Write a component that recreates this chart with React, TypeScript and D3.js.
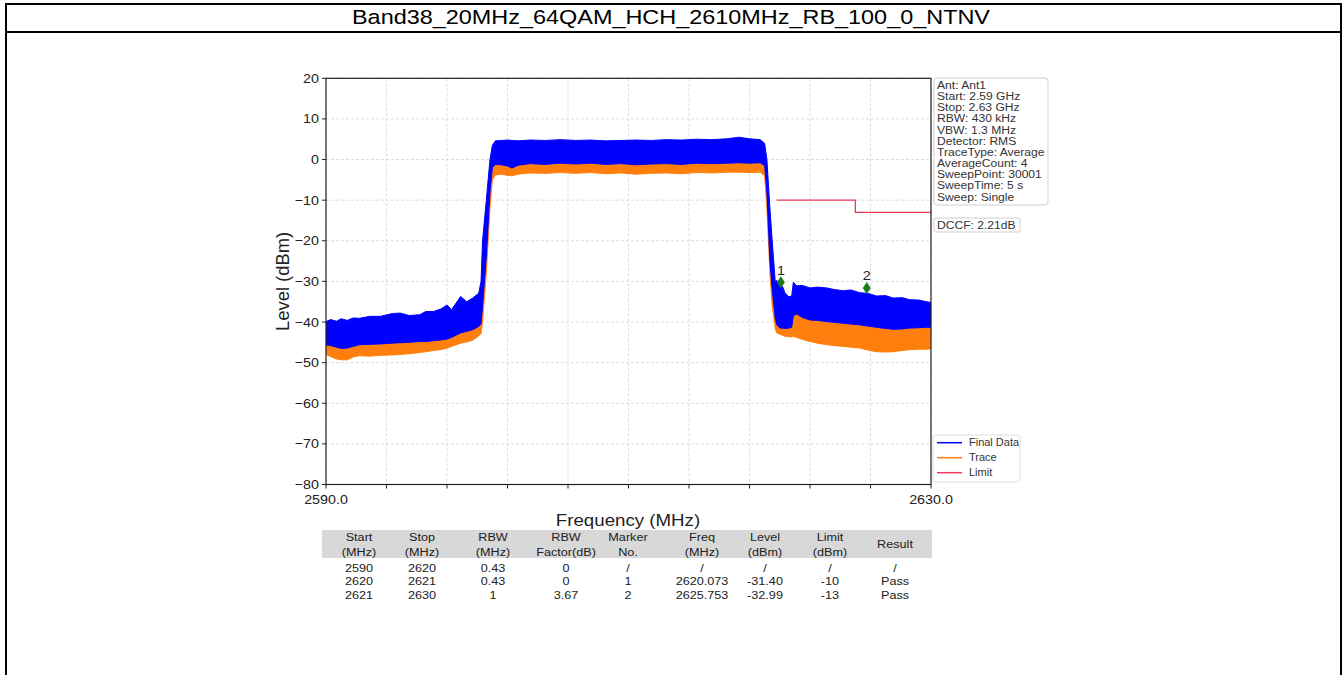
import React from "react";
import * as d3 from "d3";

// ---------------- data ----------------
const title = "Band38_20MHz_64QAM_HCH_2610MHz_RB_100_0_NTNV";

// envelope of the traces (MHz / dBm)
const freq = [
  2590.0, 2590.3, 2590.7, 2591.0, 2591.4, 2591.8, 2592.2, 2592.9, 2593.6, 2594.4,
  2594.9, 2595.5, 2596.2, 2596.6, 2597.1, 2597.6, 2598.0, 2598.3, 2598.9, 2599.3,
  2599.7, 2600.1, 2600.25, 2600.35, 2600.6, 2600.84, 2601.0, 2601.2, 2601.6, 2602.0,
  2602.3, 2602.7, 2603.5, 2604.5, 2605.5, 2606.5, 2607.5, 2608.5, 2609.5, 2610.5,
  2611.5, 2612.5, 2613.5, 2614.5, 2615.5, 2616.5, 2617.3, 2618.0, 2618.7, 2619.0,
  2619.15, 2619.35, 2619.5, 2619.7, 2619.8, 2620.02, 2620.2, 2620.35, 2620.6, 2620.79,
  2620.9, 2621.12, 2621.5, 2622.0, 2622.5, 2623.1, 2623.6, 2624.2, 2624.7, 2625.3,
  2625.8, 2626.4, 2627.0, 2627.5, 2628.1, 2628.6, 2629.2, 2629.72, 2630.0,
];
const finalMax = [
  -39.9, -39.4, -39.8, -39.2, -39.6, -39.0, -39.1, -38.6, -38.6, -37.9,
  -37.8, -38.4, -38.2, -37.4, -37.4, -36.8, -35.8, -37.0, -33.7, -35.0,
  -34.1, -32.9, -30.0, -20.0, -10.0, 0.0, 3.5, 4.6, 4.7, 4.8,
  4.7, 4.6, 4.8, 4.7, 4.9, 4.7, 4.8, 4.6, 4.7, 4.8,
  4.7, 4.9, 4.8, 5.0, 4.9, 5.1, 5.5, 5.1, 4.9, 4.0,
  0.0, -12.0, -20.0, -30.0, -29.8, -30.5, -31.4, -32.9, -33.8, -33.6,
  -30.2, -31.1, -31.0, -31.6, -31.4, -31.6, -32.0, -32.3, -32.1, -32.8,
  -32.9, -33.6, -33.5, -34.1, -34.0, -34.5, -34.6, -35.0, -35.2,
];
const finalMin = [
  -45.6, -45.8, -46.2, -46.5, -46.4, -46.0, -45.6, -45.5, -45.4, -45.2,
  -45.1, -45.0, -44.8, -44.8, -44.6, -44.4, -44.2, -43.8, -42.7, -42.3,
  -41.9, -41.1, -40.5, -36.0, -24.0, -8.0, -2.0, -1.2, -1.3, -1.6,
  -2.1, -1.4, -1.0, -1.2, -0.9, -1.1, -0.9, -1.2, -1.0, -1.3,
  -1.1, -1.0, -1.2, -0.9, -1.0, -0.9, -0.8, -0.9, -0.8, -1.5,
  -8.0, -25.0, -32.0, -39.0, -40.7, -41.5, -41.5, -41.6, -41.5, -41.3,
  -38.5, -38.0, -38.9, -39.5, -39.6, -39.9, -40.1, -40.3, -40.5, -40.7,
  -41.0, -41.3, -41.6, -41.8, -41.7, -41.5, -41.4, -41.3, -41.3,
];
const traceMax = [
  -43.0, -43.2, -43.6, -43.8, -43.7, -43.4, -43.0, -42.9, -42.8, -42.6,
  -42.5, -42.4, -42.2, -42.2, -42.0, -41.8, -41.6, -41.2, -40.2, -39.8,
  -39.4, -38.6, -38.0, -33.0, -20.0, -6.0, 0.5, 1.5, 1.4, 1.2,
  0.8, 1.3, 1.6, 1.5, 1.7, 1.5, 1.7, 1.5, 1.6, 1.4,
  1.5, 1.6, 1.5, 1.7, 1.6, 1.7, 1.8, 1.7, 1.8, 1.0,
  -4.0, -20.0, -30.0, -37.0, -38.0, -39.0, -39.0, -39.1, -39.0, -38.8,
  -36.0, -35.5, -36.4, -37.0, -37.1, -37.4, -37.6, -37.8, -38.0, -38.2,
  -38.5, -38.8, -39.1, -39.3, -39.2, -39.0, -38.9, -38.8, -38.8,
];
const traceMin = [
  -48.0, -48.5, -49.1, -49.3, -49.3, -48.6, -48.3, -48.4, -48.2, -48.1,
  -48.0, -47.8, -47.5, -47.3, -47.0, -46.8, -46.4, -46.0, -45.2, -44.9,
  -44.5, -43.4, -42.8, -40.0, -28.0, -12.0, -5.0, -3.8, -3.6, -3.9,
  -4.0, -3.6, -3.3, -3.4, -3.2, -3.4, -3.2, -3.5, -3.3, -3.6,
  -3.4, -3.3, -3.5, -3.2, -3.3, -3.1, -3.1, -3.2, -3.1, -4.0,
  -12.0, -28.0, -36.0, -41.5, -42.7, -43.0, -43.3, -43.5, -43.6, -43.7,
  -43.5, -43.8, -44.3, -44.8, -45.2, -45.6, -45.8, -46.0, -46.2, -46.4,
  -46.9, -47.3, -47.4, -47.3, -47.0, -46.8, -46.7, -46.7, -46.6,
];

const limitFreq = [2619.8, 2625.0, 2625.0, 2630.0];
const limitLevel = [-10, -10, -13, -13];

const markerNames = ["1", "2"];
const markerFreq = [2620.073, 2625.753];
const markerLevel = [-30.2, -31.6];

const yTicks = [20, 10, 0, -10, -20, -30, -40, -50, -60, -70, -80];
const xTicks = [2590, 2594, 2598, 2602, 2606, 2610, 2614, 2618, 2622, 2626, 2630];
const xTickLabels = ["2590.0", "2630.0"];

const infoLines = [
  "Ant: Ant1",
  "Start: 2.59 GHz",
  "Stop: 2.63 GHz",
  "RBW: 430 kHz",
  "VBW: 1.3 MHz",
  "Detector: RMS",
  "TraceType: Average",
  "AverageCount: 4",
  "SweepPoint: 30001",
  "SweepTime: 5 s",
  "Sweep: Single",
];
const dccfText = "DCCF: 2.21dB";

const legendNames = ["Final Data", "Trace", "Limit"];

const tableHeader1 = ["Start", "Stop", "RBW", "RBW", "Marker", "Freq", "Level", "Limit", "Result"];
const tableHeader2 = ["(MHz)", "(MHz)", "(MHz)", "Factor(dB)", "No.", "(MHz)", "(dBm)", "(dBm)", ""];
const tableRows = [
  ["2590", "2620", "0.43", "0", "/", "/", "/", "/", "/"],
  ["2620", "2621", "0.43", "0", "1", "2620.073", "-31.40", "-10", "Pass"],
  ["2621", "2630", "1", "3.67", "2", "2625.753", "-32.99", "-13", "Pass"],
];

// ---------------- styles ----------------
const FONT = "Arial, 'Liberation Sans', sans-serif";
const BLUE = "#0000ff";
const ORANGE = "#ff7f0e";
const RED = "#ef3b5a";
const GREEN = "#1f7a1f";
const SX = 1.1; // horizontal stretch of the chart's text

function SText(props: { x: number; y: number; anchor?: string; size: number; fill?: string; children: React.ReactNode; dy?: string }) {
  return (
    <text
      transform={`translate(${props.x},${props.y}) scale(${SX},1)`}
      textAnchor={props.anchor || "start"}
      dy={props.dy || "0.35em"}
      fontSize={props.size}
      fill={props.fill || "#222"}
    >
      {props.children}
    </text>
  );
}

export default function App() {
  const W = 1344;
  const H = 675;
  const left = 326, right = 931, top = 78.3, bottom = 484.5;
  const x = d3.scaleLinear().domain([2590, 2630]).range([left, right]);
  const y = d3.scaleLinear().domain([-80, 20]).range([bottom, top]);

  const idx = d3.range(freq.length);
  const traceArea = d3.area<number>()
    .x((i) => x(freq[i]))
    .y0((i) => y(traceMin[i]))
    .y1((i) => y(traceMax[i]))(idx) || "";
  const finalArea = d3.area<number>()
    .x((i) => x(freq[i]))
    .y0((i) => y(finalMin[i]))
    .y1((i) => y(finalMax[i]))(idx) || "";
  const limitPath = d3.line<number>()
    .x((i) => x(limitFreq[i]))
    .y((i) => y(limitLevel[i]))(d3.range(limitFreq.length)) || "";

  const colCenters = [359, 422, 493, 566, 628, 702, 765, 830, 895];

  return (
    <svg width={W} height={H} style={{ position: "absolute", left: 0, top: 0, background: "#fff" }} fontFamily={FONT}>
      {/* page frame */}
      <line x1={6} y1={4} x2={1342} y2={4} stroke="#000" strokeWidth={2} />
      <line x1={6} y1={32} x2={1342} y2={32} stroke="#000" strokeWidth={2} />
      <line x1={6} y1={3} x2={6} y2={H} stroke="#000" strokeWidth={2} />
      <line x1={1341} y1={3} x2={1341} y2={H} stroke="#000" strokeWidth={2} />
      <text x={352} y={24} fontSize={20.5} fill="#000" textLength={638} lengthAdjust="spacingAndGlyphs">{title}</text>

      <defs>
        <clipPath id="plotclip">
          <rect x={left} y={top} width={right - left} height={bottom - top} />
        </clipPath>
      </defs>

      {/* grid */}
      {yTicks.map((t) => (
        <line key={"gy" + t} x1={left} x2={right} y1={y(t)} y2={y(t)} stroke="#d4d4d4" strokeWidth={0.8} strokeDasharray="3,2" />
      ))}
      {xTicks.map((t) => (
        <line key={"gx" + t} x1={x(t)} x2={x(t)} y1={top} y2={bottom} stroke="#d4d4d4" strokeWidth={0.8} strokeDasharray="3,2" />
      ))}

      {/* traces */}
      <g clipPath="url(#plotclip)">
        <path d={traceArea} fill={ORANGE} stroke={ORANGE} strokeWidth={1} />
        <path d={finalArea} fill={BLUE} stroke={BLUE} strokeWidth={1} />
        <path d={limitPath} fill="none" stroke={RED} strokeWidth={1.3} />
      </g>

      {/* markers */}
      {markerFreq.map((f, i) => {
        const cx = x(f), cy = y(markerLevel[i]);
        return (
          <g key={"m" + i}>
            <path d={`M${cx},${cy - 6}L${cx + 4},${cy}L${cx},${cy + 6}L${cx - 4},${cy}Z`} fill={GREEN} />
            <SText x={cx} y={cy - 12} anchor="middle" size={13}>{markerNames[i]}</SText>
          </g>
        );
      })}

      {/* frame */}
      <rect x={left} y={top} width={right - left} height={bottom - top} fill="none" stroke="#222" strokeWidth={1.2} />

      {/* y ticks */}
      {yTicks.map((t) => (
        <g key={"ty" + t}>
          <line x1={left - 4} x2={left} y1={y(t)} y2={y(t)} stroke="#222" strokeWidth={1} />
          <SText x={left - 7} y={y(t)} anchor="end" size={13}>
            {t < 0 ? "\u2212" + Math.abs(t) : String(t)}
          </SText>
        </g>
      ))}
      {/* x ticks */}
      {xTicks.map((t) => (
        <line key={"tx" + t} x1={x(t)} x2={x(t)} y1={bottom} y2={bottom + 4} stroke="#222" strokeWidth={1} />
      ))}
      <SText x={x(2590)} y={499} anchor="middle" size={13}>{xTickLabels[0]}</SText>
      <SText x={x(2630)} y={499} anchor="middle" size={13}>{xTickLabels[1]}</SText>

      <text transform={`translate(283,${(top + bottom) / 2}) rotate(-90) scale(1.05,1)`} textAnchor="middle" dy="0.35em" fontSize={17.5} fill="#222">Level (dBm)</text>
      <SText x={628} y={520} anchor="middle" size={17}>Frequency (MHz)</SText>

      {/* info box */}
      <rect x={934} y={78} width={114} height={127} rx={3} fill="#fff" stroke="#cfcfcf" strokeWidth={1} />
      {infoLines.map((s, i) => (
        <SText key={"info" + i} x={937} y={85 + i * 11.17} size={11} fill="#333">{s}</SText>
      ))}
      <rect x={934} y={218} width={86} height={14} rx={2} fill="#fff" stroke="#cfcfcf" strokeWidth={1} />
      <SText x={937} y={225} size={11} fill="#333">{dccfText}</SText>

      {/* legend */}
      <rect x={933} y={435} width={87} height={47} rx={3} fill="#fff" stroke="#dedede" strokeWidth={1} />
      {legendNames.map((s, i) => (
        <g key={"lg" + i}>
          <line x1={937} x2={962} y1={442.7 + i * 15} y2={442.7 + i * 15} stroke={[BLUE, ORANGE, RED][i]} strokeWidth={1.5} />
          <SText x={969} y={442.7 + i * 15} size={10} fill="#333">{s}</SText>
        </g>
      ))}

      {/* table */}
      <rect x={322} y={530} width={610} height={28} fill="#d8d8d8" />
      {tableHeader1.map((s, i) => {
        const single = tableHeader2[i] === "";
        return (
          <g key={"th" + i}>
            <SText x={colCenters[i]} y={single ? 544 : 537} anchor="middle" size={11.5}>{s}</SText>
            {!single && (
              <SText x={colCenters[i]} y={551.5} anchor="middle" size={11.5}>{tableHeader2[i]}</SText>
            )}
          </g>
        );
      })}
      {tableRows.map((row, r) =>
        row.map((s, c) => (
          <SText key={`td${r}-${c}`} x={colCenters[c]} y={567.5 + r * 13.7} anchor="middle" size={11.5}>{s}</SText>
        ))
      )}
    </svg>
  );
}
